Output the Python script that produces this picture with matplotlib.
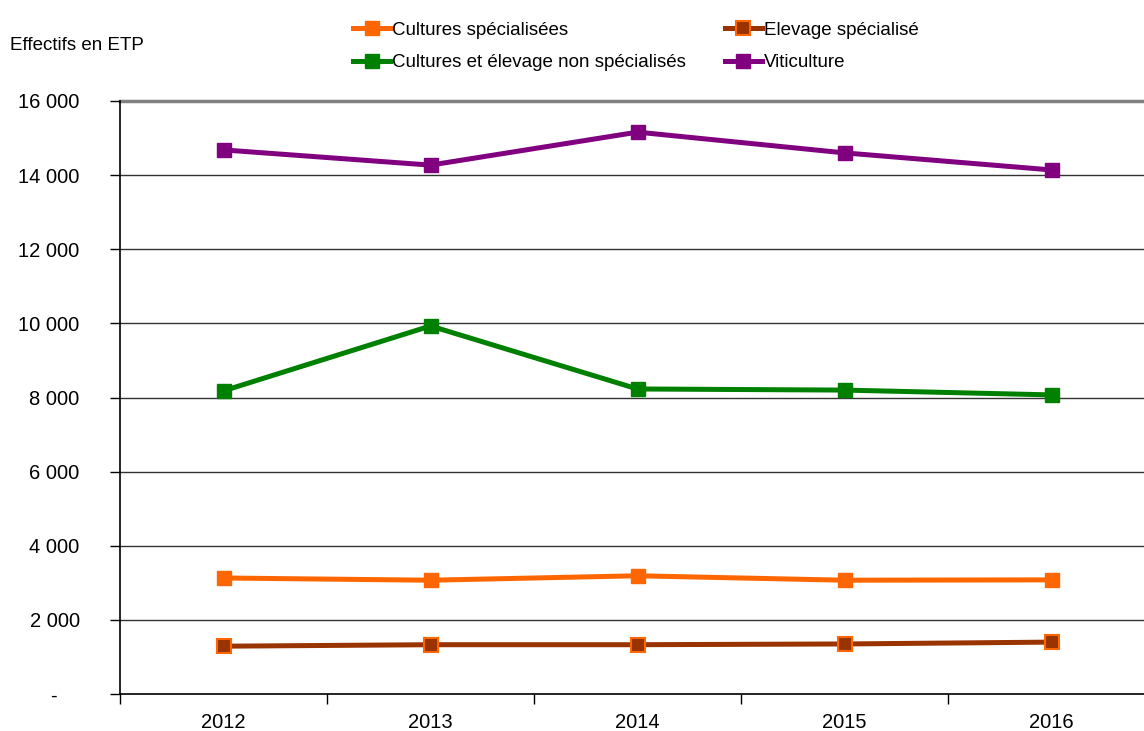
import matplotlib.pyplot as plt
from matplotlib.ticker import FuncFormatter

plt.rcParams['font.family'] = ['Liberation Sans', 'DejaVu Sans']

# data (effectifs en ETP)
years = ['2012', '2013', '2014', '2015', '2016']
cultures_spe = [3130, 3070, 3190, 3070, 3080]
elevage_spe = [1290, 1330, 1330, 1350, 1400]
cultures_elevage = [8180, 9930, 8230, 8200, 8070]
viticulture = [14680, 14270, 15160, 14600, 14140]

fig = plt.figure(figsize=(11.44, 7.31), dpi=100)
ax = fig.add_axes([120 / 1144, 1 - 694 / 731, 1035 / 1144, 593 / 731])

x = range(len(years))
lw, ms = 3.6, 9.5
l1, = ax.plot(x, cultures_spe, color='#FF6600', lw=lw, marker='s', ms=ms,
              mfc='#FF6600', mec='#FF6600', label='Cultures spécialisées')
l2, = ax.plot(x, elevage_spe, color='#993300', lw=lw, marker='s', ms=ms,
              mfc='#993300', mec='#FF6600', mew=1.5, label='Elevage spécialisé')
l3, = ax.plot(x, cultures_elevage, color='#008000', lw=lw, marker='s', ms=ms,
              mfc='#008000', mec='#008000', label='Cultures et élevage non spécialisés')
l4, = ax.plot(x, viticulture, color='#800080', lw=lw, marker='s', ms=ms,
              mfc='#800080', mec='#800080', label='Viticulture')

ax.set_xlim(-0.5, 4.5)
ax.set_ylim(0, 16000)
ax.set_yticks(range(0, 16001, 2000))
ax.yaxis.set_major_formatter(FuncFormatter(
    lambda v, p: '-    ' if v == 0 else f'{int(v):,}'.replace(',', ' ')))
ax.set_xticks(x)
ax.set_xticklabels(years)
ax.set_xticks([i - 0.5 for i in range(6)], minor=True)
ax.tick_params(axis='x', which='major', length=0, pad=14, labelsize=14.5)
ax.tick_params(axis='x', which='minor', length=7, width=1, direction='out')
ax.tick_params(axis='y', length=7, width=1, direction='out', pad=22, labelsize=14.5)

for t in range(2000, 16000, 2000):
    ax.axhline(t, color='#333333', lw=1, zorder=0)
ax.axhline(16000, color='#808080', lw=2.5, zorder=0, clip_on=False)

for s in ['top', 'right']:
    ax.spines[s].set_visible(False)
ax.spines['left'].set_linewidth(1.2)
ax.spines['bottom'].set_linewidth(1.2)

fig.text(10 / 1144, 1 - 45 / 731, 'Effectifs en ETP', fontsize=13.5, va='center')

fig.legend(handles=[l1, l3, l2, l4], ncol=2, frameon=False, fontsize=13.5,
           loc='upper left', bbox_to_anchor=(336 / 1144, 1 - 5 / 731),
           handlelength=2.0, handletextpad=0.1, columnspacing=2.05,
           labelspacing=0.8)

fig.savefig('out.png', dpi=100)
